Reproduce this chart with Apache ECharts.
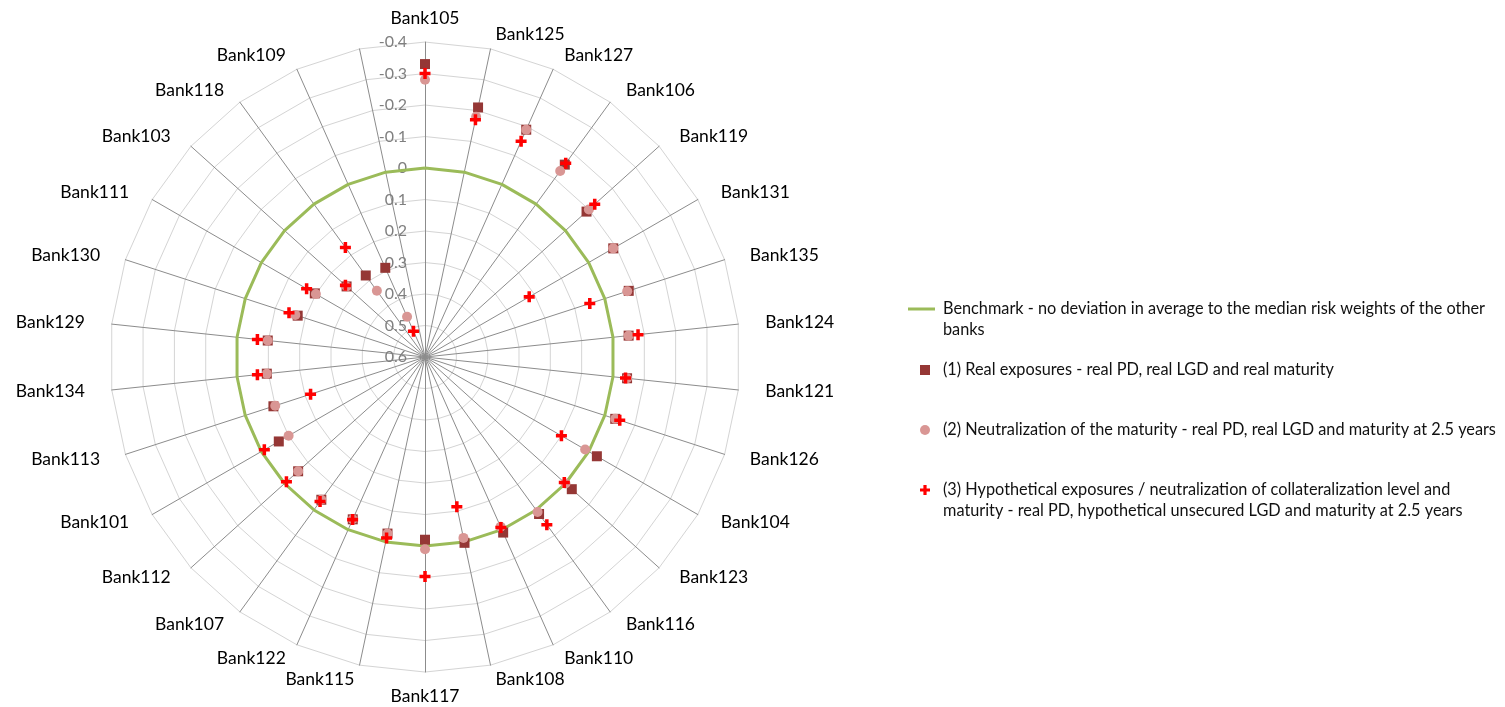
<!DOCTYPE html>
<html>
<head>
<meta charset="utf-8">
<script src="https://cdn.jsdelivr.net/npm/echarts@6/dist/echarts.min.js"></script>
<style>
  html, body { margin: 0; padding: 0; background: #ffffff; }
  #chart { width: 1505px; height: 707px; }
</style>
</head>
<body>
<div id="chart"></div>
<script>
// Banks, clockwise from the top spoke (the last spoke carries no bank).
const banks = [
  'Bank105', 'Bank125', 'Bank127', 'Bank106', 'Bank119', 'Bank131', 'Bank135', 'Bank124',
  'Bank121', 'Bank126', 'Bank104', 'Bank123', 'Bank116', 'Bank110', 'Bank108', 'Bank117',
  'Bank115', 'Bank122', 'Bank107', 'Bank112', 'Bank101', 'Bank113', 'Bank134', 'Bank129',
  'Bank130', 'Bank111', 'Bank103', 'Bank118', 'Bank109', ''
];

// Benchmark: no deviation from the median risk weights.
const benchmark = [
  0, 0, 0, 0, 0, 0, 0, 0, 0, 0, 0, 0, 0, 0, 0,
  0, 0, 0, 0, 0, 0, 0, 0, 0, 0, 0, 0, 0, 0, 0
];

// (1) Real exposures
const realExposures = [
  -0.33, -0.21, -0.19, -0.155, -0.09, -0.09, -0.08, -0.05,
  -0.045, -0.035, -0.03, -0.027, -0.016, -0.01, -0.003, 0.02,
  0.027, 0.036, 0.04, 0.058, 0.064, 0.094, 0.095, 0.098,
  0.175, 0.196, 0.265, 0.28, 0.29, null
];

// (2) Neutralization of the maturity
const neutralMaturity = [
  -0.28, -0.18, -0.19, -0.13, -0.10, -0.09, -0.075, -0.05,
  -0.045, -0.035, 0.013, 0.0, -0.008, 0.01, 0.013, -0.01,
  0.027, 0.036, 0.04, 0.058, 0.10, 0.10, 0.095, 0.098,
  0.167, 0.20, 0.265, 0.34, 0.46, null
];

// (3) Hypothetical exposures
const hypothetical = [
  -0.30, -0.17, -0.15, -0.16, -0.125, 0.218, 0.05, -0.08,
  -0.04, -0.05, 0.10, 0.005, -0.058, 0.008, 0.114, -0.097,
  0.013, 0.035, 0.033, 0.008, 0.011, 0.218, 0.065, 0.065,
  0.146, 0.166, 0.26, 0.17, 0.51, null
];

// Radial scale: the centre is 0.6, the outer ring -0.4.
const radialMin = -0.4;
const radialMax = 0.6;
const radialStep = 0.1;

const seriesNames = [
  'Benchmark - no deviation in average to the median risk weights of the other\nbanks',
  '(1) Real exposures - real PD, real LGD and real maturity',
  '(2) Neutralization of the maturity - real PD, real LGD and maturity at 2.5 years',
  '(3) Hypothetical exposures / neutralization of collateralization level and\nmaturity - real PD, hypothetical unsecured LGD and maturity at 2.5 years'
];

const FONT = 'Lato, "Noto Sans", sans-serif';
const CENTER = ['28.24%', '50.5%'];
const RADIUS = 315;
const N = banks.length;
const PLUS = 'path://M3.4,0H6.6V3.4H10V6.6H6.6V10H3.4V6.6H0V3.4H3.4Z';

// [radius value, spoke index] pairs for the polar system; empty spokes are skipped.
function toPolar(values) {
  const pts = [];
  values.forEach(function (v, i) { if (v !== null) pts.push([v, i]); });
  return pts;
}
const benchmarkPts = toPolar(benchmark);
benchmarkPts.push([benchmark[0], N]); // close the ring back on the first spoke

// Spoke names sit a little closer to the vertical centre line near the top and
// bottom of the web, and drift toward the horizontal line near the sides.
function nameStyleFor(i) {
  const a = i * 2 * Math.PI / N;
  const side = Math.round(12 * Math.abs(Math.sin(a)));
  const lift = Math.round(5 * Math.abs(Math.cos(a)));
  const upper = Math.cos(a) > 0;
  return {
    padding: [upper ? lift : 0, side, upper ? 0 : lift, side]
  };
}

// Radar draws counter-clockwise, so feed it the spokes in reverse after the first.
const radarOrder = [0].concat(banks.map(function (_, i) { return i; }).slice(1).reverse());
const radarIndicators = radarOrder.map(function (i) {
  return { name: banks[i], min: 0, max: 1, nameTextStyle: nameStyleFor(i) };
});

// One legend per entry; wrapped entries keep their marker on the first line.
function legendAt(name, icon, left, top, w, h, gap) {
  const lines = name.split('\n');
  return {
    data: [{ name: name, icon: icon }],
    left: left,
    top: top,
    padding: 0,
    itemWidth: w,
    itemHeight: h,
    selectedMode: false,
    formatter: function () {
      const body = lines.map(function (l) { return '{g|}{t|' + l + '}'; }).join('\n');
      return lines.length > 1 ? '{g|}\n' + body : body;
    },
    textStyle: {
      fontFamily: FONT,
      fontSize: 16.3,
      color: '#111111',
      lineHeight: 21,
      rich: {
        g: { width: gap, lineHeight: 21 },
        t: { fontFamily: FONT, fontSize: 16.3, color: '#111111', lineHeight: 21 }
      }
    }
  };
}

const chart = echarts.init(document.getElementById('chart'), null, { renderer: 'canvas' });
chart.setOption({
  animation: false,
  backgroundColor: '#ffffff',
  radar: {
    center: CENTER,
    radius: RADIUS,
    startAngle: 90,
    shape: 'polygon',
    splitNumber: 10,
    nameGap: 15,
    indicator: radarIndicators,
    axisName: { color: '#000000', fontSize: 17.5, fontFamily: FONT },
    axisLine: { lineStyle: { color: '#8c8c8c', width: 1 } },
    axisTick: { show: false },
    axisLabel: { show: false },
    splitLine: { lineStyle: { color: '#d4d4d4', width: 1 } },
    splitArea: { show: false }
  },
  polar: { center: CENTER, radius: RADIUS },
  angleAxis: {
    type: 'value', min: 0, max: N, startAngle: 90, clockwise: true,
    axisLine: { show: false }, axisTick: { show: false }, axisLabel: { show: false },
    splitLine: { show: false }, splitArea: { show: false }
  },
  radiusAxis: {
    type: 'value', min: radialMin, max: radialMax, interval: radialStep, inverse: true,
    axisLine: { show: false }, axisTick: { show: false },
    splitLine: { show: false }, splitArea: { show: false },
    axisLabel: { color: '#7f7f7f', fontSize: 16, fontFamily: FONT, margin: 18 }
  },
  legend: [
    legendAt(seriesNames[0], 'rect', 908, 277.5, 27, 3, 3),
    legendAt(seriesNames[1], 'rect', 920, 359.5, 10, 10, 8),
    legendAt(seriesNames[2], 'circle', 920, 419.5, 10, 10, 8),
    legendAt(seriesNames[3], PLUS, 920, 458.5, 10, 10, 8)
  ],
  series: [
    {
      name: seriesNames[0], type: 'line', coordinateSystem: 'polar',
      data: benchmarkPts, symbol: 'none', z: 3,
      lineStyle: { color: '#9bbb59', width: 3 }, itemStyle: { color: '#9bbb59' }
    },
    {
      name: seriesNames[1], type: 'scatter', coordinateSystem: 'polar',
      data: toPolar(realExposures), symbol: 'rect', symbolSize: 10, z: 4,
      itemStyle: { color: '#953735', opacity: 1 }
    },
    {
      name: seriesNames[2], type: 'scatter', coordinateSystem: 'polar',
      data: toPolar(neutralMaturity), symbol: 'circle', symbolSize: 10, z: 5,
      itemStyle: { color: '#d99694', opacity: 1 }
    },
    {
      name: seriesNames[3], type: 'scatter', coordinateSystem: 'polar',
      data: toPolar(hypothetical), symbol: PLUS, symbolSize: 11, z: 6,
      itemStyle: { color: '#ff0000', opacity: 1 }
    }
  ]
});
</script>
</body>
</html>
